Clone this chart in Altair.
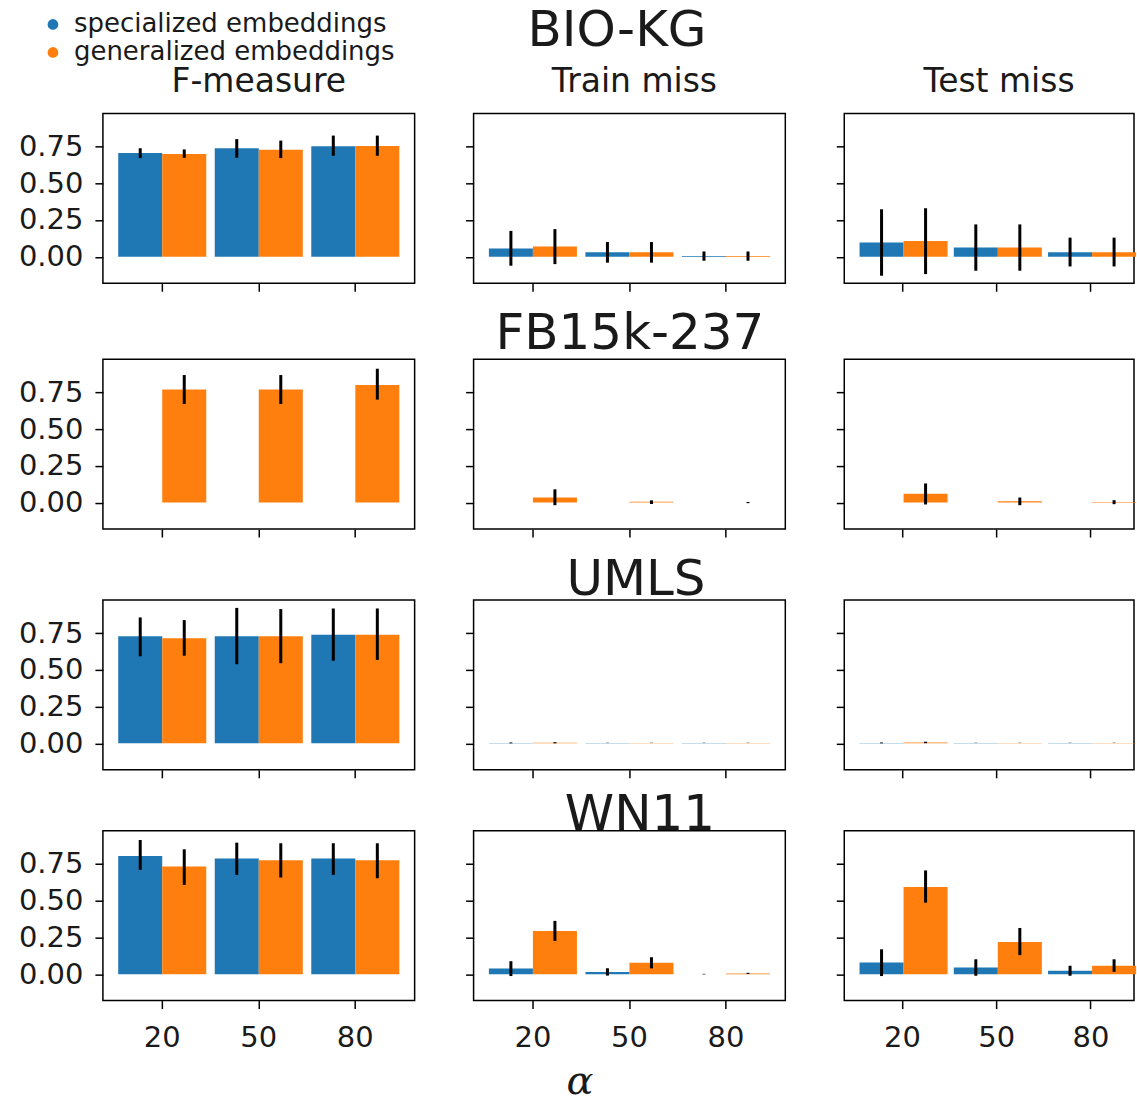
import altair as alt
import pandas as pd

ALPHAS = ["20", "50", "80"]
SERIES = ["specialized embeddings", "generalized embeddings"]
DATASETS = ["BIO-KG", "FB15k-237", "UMLS", "WN11"]
METRICS = ["F-measure", "Train miss", "Test miss"]
COLORS = ["#1f77b4", "#ff7f0e"]
Y_TICKS = [0.0, 0.25, 0.5, 0.75]

# order in every list: specialized 20, 50, 80, then generalized 20, 50, 80
BIOKG_F_MEAN = [0.705, 0.738, 0.752, 0.698, 0.728, 0.754]
BIOKG_F_LO = [0.671, 0.673, 0.687, 0.673, 0.671, 0.687]
BIOKG_F_HI = [0.738, 0.800, 0.824, 0.730, 0.790, 0.824]
BIOKG_TR_MEAN = [0.056, 0.030, 0.005, 0.070, 0.030, 0.005]
BIOKG_TR_LO = [-0.061, -0.040, -0.027, -0.050, -0.040, -0.027]
BIOKG_TR_HI = [0.176, 0.100, 0.036, 0.188, 0.100, 0.036]
BIOKG_TE_MEAN = [0.097, 0.063, 0.030, 0.108, 0.063, 0.030]
BIOKG_TE_LO = [-0.129, -0.095, -0.066, -0.118, -0.095, -0.066]
BIOKG_TE_HI = [0.323, 0.220, 0.130, 0.330, 0.220, 0.130]

FB_F_MEAN = [0.0, 0.0, 0.0, 0.768, 0.768, 0.800]
FB_F_LO = [0.0, 0.0, 0.0, 0.670, 0.670, 0.700]
FB_F_HI = [0.0, 0.0, 0.0, 0.867, 0.867, 0.910]
FB_TR_MEAN = [0.0, 0.0, 0.0, 0.035, 0.005, 0.0]
FB_TR_LO = [0.0, 0.0, 0.0, -0.018, -0.010, -0.004]
FB_TR_HI = [0.0, 0.0, 0.0, 0.090, 0.015, 0.004]
FB_TE_MEAN = [0.0, 0.0, 0.0, 0.060, 0.008, 0.003]
FB_TE_LO = [0.0, 0.0, 0.0, -0.013, -0.018, -0.011]
FB_TE_HI = [0.0, 0.0, 0.0, 0.130, 0.034, 0.016]

UMLS_F_MEAN = [0.728, 0.728, 0.739, 0.714, 0.728, 0.739]
UMLS_F_LO = [0.592, 0.538, 0.562, 0.596, 0.545, 0.567]
UMLS_F_HI = [0.856, 0.921, 0.917, 0.838, 0.913, 0.917]
UMLS_TR_MEAN = [0.003, 0.003, 0.003, 0.004, 0.003, 0.003]
UMLS_TR_LO = [0.000, 0.002, 0.002, 0.000, 0.002, 0.002]
UMLS_TR_HI = [0.006, 0.004, 0.004, 0.008, 0.004, 0.004]
UMLS_TE_MEAN = [0.003, 0.003, 0.003, 0.006, 0.003, 0.003]
UMLS_TE_LO = [0.000, 0.002, 0.002, 0.001, 0.002, 0.002]
UMLS_TE_HI = [0.006, 0.004, 0.004, 0.011, 0.004, 0.004]

WN_F_MEAN = [0.804, 0.786, 0.786, 0.732, 0.774, 0.774]
WN_F_LO = [0.709, 0.675, 0.675, 0.607, 0.657, 0.652]
WN_F_HI = [0.912, 0.894, 0.890, 0.849, 0.890, 0.890]
WN_TR_MEAN = [0.039, 0.015, 0.0, 0.294, 0.077, 0.005]
WN_TR_LO = [-0.013, -0.010, -0.002, 0.226, 0.039, 0.001]
WN_TR_HI = [0.088, 0.040, 0.002, 0.362, 0.115, 0.009]
WN_TE_MEAN = [0.079, 0.045, 0.023, 0.592, 0.219, 0.057]
WN_TE_LO = [-0.013, -0.011, -0.011, 0.486, 0.129, 0.016]
WN_TE_HI = [0.169, 0.101, 0.057, 0.705, 0.314, 0.101]

TABLE = {
    ("BIO-KG", "F-measure"): (BIOKG_F_MEAN, BIOKG_F_LO, BIOKG_F_HI),
    ("BIO-KG", "Train miss"): (BIOKG_TR_MEAN, BIOKG_TR_LO, BIOKG_TR_HI),
    ("BIO-KG", "Test miss"): (BIOKG_TE_MEAN, BIOKG_TE_LO, BIOKG_TE_HI),
    ("FB15k-237", "F-measure"): (FB_F_MEAN, FB_F_LO, FB_F_HI),
    ("FB15k-237", "Train miss"): (FB_TR_MEAN, FB_TR_LO, FB_TR_HI),
    ("FB15k-237", "Test miss"): (FB_TE_MEAN, FB_TE_LO, FB_TE_HI),
    ("UMLS", "F-measure"): (UMLS_F_MEAN, UMLS_F_LO, UMLS_F_HI),
    ("UMLS", "Train miss"): (UMLS_TR_MEAN, UMLS_TR_LO, UMLS_TR_HI),
    ("UMLS", "Test miss"): (UMLS_TE_MEAN, UMLS_TE_LO, UMLS_TE_HI),
    ("WN11", "F-measure"): (WN_F_MEAN, WN_F_LO, WN_F_HI),
    ("WN11", "Train miss"): (WN_TR_MEAN, WN_TR_LO, WN_TR_HI),
    ("WN11", "Test miss"): (WN_TE_MEAN, WN_TE_LO, WN_TE_HI),
}

records = []
for (ds, met), (mean, lo, hi) in TABLE.items():
    k = 0
    for s in SERIES:
        for a in ALPHAS:
            records.append(dict(dataset=ds, metric=met, series=s, alpha=a,
                                value=mean[k], lo=lo[k], hi=hi[k]))
            k += 1
df = pd.DataFrame(records)

FONT = "DejaVu Sans"
TXT = "#1a1a1a"
PW, PH = 312, 170
PW_LAST = 290          # right-most column is cut by the page edge
YDOM = [-0.18, 0.975]

# layout constants (pixels)
ROW_TITLE_DX = [46, 59, 65, 69]
ROW_TITLE_OFFSET = [10, -1, -6, -10]
COL_TITLE_DX = [0, 5, 10]


def panel(r, c):
    ds, met = DATASETS[r], METRICS[c]
    base = alt.Chart(df).transform_filter(
        (alt.datum.dataset == ds) & (alt.datum.metric == met)
    )
    bottom = r == len(DATASETS) - 1
    last = c == len(METRICS) - 1
    xaxis_kw = dict(labels=bottom, ticks=True, tickSize=8, tickWidth=1.5,
                    tickColor="black", domain=False, labelAngle=0,
                    labelFontSize=29, labelFont=FONT, labelColor=TXT,
                    labelPadding=15, grid=False)
    if bottom and c == 1:
        xaxis_kw.update(title="α", titleFont="DejaVu Serif", titleFontStyle="italic",
                        titleFontWeight="normal", titleFontSize=40, titleColor=TXT,
                        titleX=106, titleY=93, titleAlign="center",
                        titleBaseline="alphabetic")
    else:
        xaxis_kw.update(title=None)
    if last:
        xscale = alt.Scale(paddingInner=0.088, paddingOuter=0.0811, align=1)
    else:
        xscale = alt.Scale(paddingInner=0.088, paddingOuter=0.1585)
    x = alt.X("alpha:N", sort=ALPHAS, scale=xscale, axis=alt.Axis(**xaxis_kw))
    xo = alt.XOffset("series:N", sort=SERIES,
                     scale=alt.Scale(paddingInner=0, paddingOuter=0))
    if c == 0:
        yaxis = alt.Axis(values=Y_TICKS, format=".2f", title=None, grid=False,
                         domain=False, tickSize=8, tickWidth=1.5, tickColor="black",
                         labelFontSize=29, labelFont=FONT, labelColor=TXT,
                         labelPadding=12, minExtent=97, maxExtent=97)
    else:
        yaxis = alt.Axis(values=Y_TICKS, labels=False, title=None, grid=False,
                         domain=False, tickSize=8, tickWidth=1.5, tickColor="black",
                         minExtent=8, maxExtent=8)
    y = alt.Y("value:Q", scale=alt.Scale(domain=YDOM, nice=False, zero=False),
              axis=yaxis)
    color = alt.Color("series:N", sort=SERIES,
                      scale=alt.Scale(domain=SERIES, range=COLORS),
                      legend=alt.Legend(orient="none", legendX=-63, legendY=-102,
                                        title=None, symbolType="circle",
                                        symbolSize=150, symbolStrokeColor="white",
                                        symbolStrokeWidth=1.5, labelFontSize=26,
                                        labelFont=FONT, labelColor=TXT,
                                        labelLimit=500, labelOffset=8,
                                        rowPadding=2, padding=0))
    bars = base.mark_bar().encode(x=x, xOffset=xo, y=y, y2=alt.datum(0), color=color)
    errs = base.mark_rule(color="black", strokeWidth=3).encode(
        x=x, xOffset=xo, y=alt.Y("lo:Q"), y2="hi:Q")
    ch = alt.layer(bars, errs).properties(width=PW_LAST if last else PW, height=PH)
    if r == 0:
        ch = ch.properties(title=alt.Title(met, fontSize=33, font=FONT,
                                           fontWeight="normal", color=TXT,
                                           baseline="top", offset=14,
                                           anchor="middle", dx=COL_TITLE_DX[c]))
    return ch


rows = []
for r, ds in enumerate(DATASETS):
    rows.append(alt.hconcat(
        *[panel(r, c) for c in range(3)], spacing=48,
        title=alt.Title(ds, fontSize=50, font=FONT, fontWeight="normal", color=TXT,
                        baseline="top", offset=ROW_TITLE_OFFSET[r],
                        anchor="middle", dx=ROW_TITLE_DX[r])))

inner = alt.vconcat(rows[2], rows[3], spacing=10)
mid = alt.vconcat(rows[1], inner, spacing=16)
chart = alt.vconcat(rows[0], mid, spacing=16).properties(
    padding={"left": 5, "top": 5, "right": 0, "bottom": 0}
).configure_view(stroke="black", strokeWidth=1.5)

chart.save("out.html", embed_options={"renderer": "svg", "actions": False})
